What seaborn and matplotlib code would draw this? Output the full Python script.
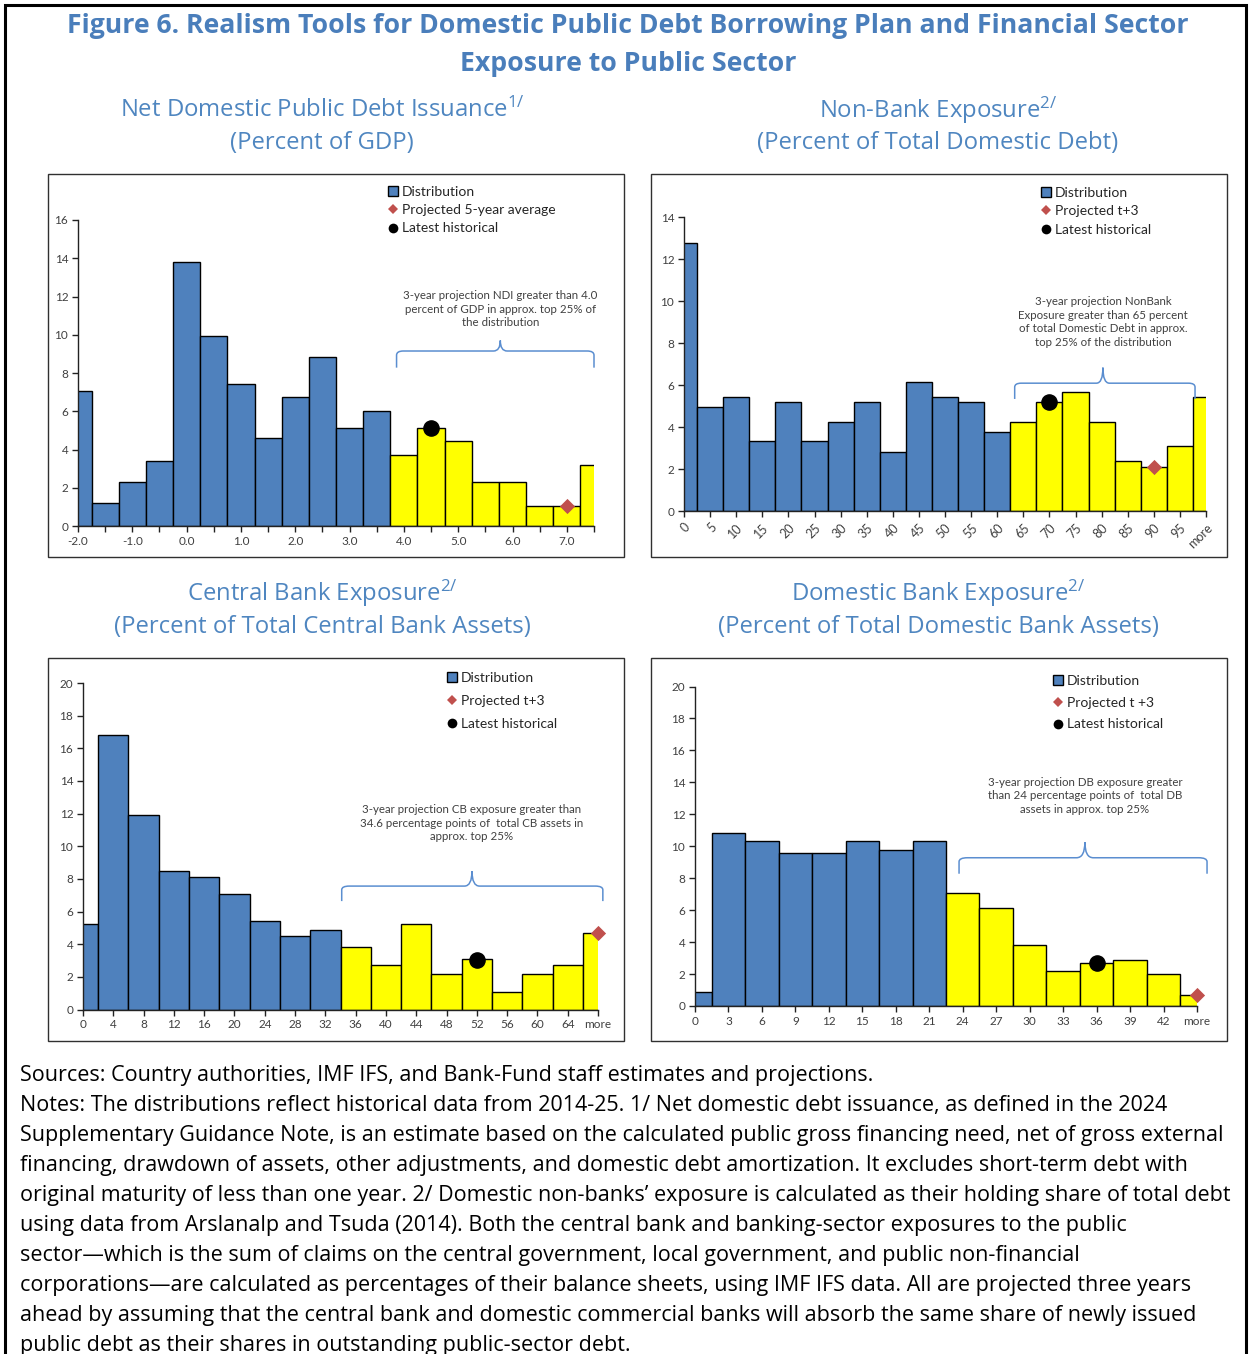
import numpy as np
import pandas as pd
import matplotlib
matplotlib.use("Agg")
import matplotlib.pyplot as plt
import seaborn as sns
from matplotlib.patches import Rectangle, PathPatch
from matplotlib.lines import Line2D
from matplotlib.path import Path

# ---------------- data ----------------
ndi_cats = ["-2.0", "-1.5", "-1.0", "-0.5", "0.0", "0.5", "1.0", "1.5", "2.0", "2.5",
            "3.0", "3.5", "4.0", "4.5", "5.0", "5.5", "6.0", "6.5", "7.0", "7.5"]
ndi_vals = [7.07, 1.22, 2.30, 3.39, 13.83, 9.92, 7.42, 4.61, 6.72, 8.86,
            5.14, 6.01, 3.72, 5.14, 4.44, 2.30, 2.30, 1.04, 1.04, 3.18]
ndi_latest = ("4.5", 5.15)
ndi_proj = ("7.0", 1.05)

nb_cats = ["0", "5", "10", "15", "20", "25", "30", "35", "40", "45", "50", "55", "60",
           "65", "70", "75", "80", "85", "90", "95", "more"]
nb_vals = [12.75, 4.96, 5.45, 3.33, 5.21, 3.33, 4.24, 5.21, 2.85, 6.15, 5.45, 5.21, 3.80,
           4.24, 5.21, 5.67, 4.24, 2.41, 2.11, 3.09, 5.45]
nb_latest = ("70", 5.2)
nb_proj = ("90", 2.1)

cb_cats = ["0", "4", "8", "12", "16", "20", "24", "28", "32", "36", "40", "44", "48",
           "52", "56", "60", "64", "more"]
cb_vals = [5.25, 16.81, 11.91, 8.48, 8.13, 7.05, 5.41, 4.51, 4.88,
           3.80, 2.70, 5.23, 2.19, 3.08, 1.10, 2.19, 2.70, 4.70]
cb_latest = ("52", 3.05)
cb_proj = ("more", 4.7)

db_cats = ["0", "3", "6", "9", "12", "15", "18", "21", "24", "27", "30", "33", "36",
           "39", "42", "more"]
db_vals = [0.90, 10.84, 10.32, 9.57, 9.57, 10.32, 9.78, 10.32,
           7.05, 6.15, 3.82, 2.17, 2.69, 2.88, 1.98, 0.69]
db_latest = ("36", 2.7)
db_proj = ("more", 0.7)

# first category of the top-25% (yellow) segment
ndi_cut, nb_cut, cb_cut, db_cut = "4.0", "65", "36", "24"

# ---------------- style ----------------
W, H = 1251, 1354
sns.set_theme(style="white")
plt.rcParams["font.family"] = ["Open Sans", "DejaVu Sans"]
plt.rcParams["mathtext.default"] = "regular"

BLUE = "#4F81BD"
YELLOW = "#FFFF00"
RED = "#C0504D"
TITLE_C = "#4A7EBB"
SUB_C = "#4F86C0"
TICK_C = "#404040"
IN_FONT = ["Lato", "DejaVu Sans"]

fig = plt.figure(figsize=(W / 100, H / 100), dpi=100)


def fx(x):
    return x / W


def fy(y):
    return 1 - y / H


def add_ax(left, right, top, bottom):
    return fig.add_axes([fx(left), fy(bottom), (right - left) / W, (bottom - top) / H])


def brace(ax, x0, x1, ymid, yend, ytip, xtip):
    rx = 0.25
    ry = (ymid - yend) * 0.25
    verts = [
        (x0, yend), (x0, ymid - ry), (x0, ymid), (x0 + rx, ymid),
        (xtip - rx, ymid), (xtip, ymid), (xtip, ytip),
        (xtip, ymid), (xtip + rx, ymid),
        (x1 - rx, ymid), (x1, ymid), (x1, ymid - ry), (x1, yend),
    ]
    codes = [
        Path.MOVETO, Path.LINETO, Path.CURVE3, Path.CURVE3,
        Path.LINETO, Path.CURVE3, Path.CURVE3,
        Path.CURVE3, Path.CURVE3,
        Path.LINETO, Path.CURVE3, Path.CURVE3, Path.LINETO,
    ]
    ax.add_patch(PathPatch(Path(verts, codes), fill=False, edgecolor="#5B8ED0",
                           lw=1.1, clip_on=False))


def panel(rect, cats, vals, cut, ymax, ystep, latest, proj, label_every=1, rotate=False):
    ax = add_ax(*rect)
    cut_i = cats.index(cut)
    df = pd.DataFrame({"cat": cats, "val": vals,
                       "seg": ["base" if i < cut_i else "top" for i in range(len(cats))]})
    sns.barplot(data=df, x="cat", y="val", hue="seg", order=cats,
                palette={"base": BLUE, "top": YELLOW}, dodge=False, width=1.0,
                edgecolor="black", linewidth=1.0, legend=False, ax=ax, saturation=1)
    n = len(cats)
    ax.set_xlim(0, n - 1)
    ax.set_ylim(0, ymax)
    ax.set_xlabel("")
    ax.set_ylabel("")
    ax.set_yticks(np.arange(0, ymax + 0.01, ystep))
    ax.set_yticklabels([str(int(v)) for v in np.arange(0, ymax + 0.01, ystep)],
                       fontsize=8.5, color=TICK_C, family=IN_FONT)
    ax.set_xticks(range(n))
    labels = [c if i % label_every == 0 else "" for i, c in enumerate(cats)]
    if rotate:
        ax.set_xticklabels(labels, rotation=45, ha="right", rotation_mode="anchor",
                           fontsize=9, color=TICK_C, family=IN_FONT)
    else:
        ax.set_xticklabels(labels, fontsize=8.5, color=TICK_C, family=IN_FONT)
    for s in ["top", "right"]:
        ax.spines[s].set_visible(False)
    for s in ["left", "bottom"]:
        ax.spines[s].set_color("#222222")
        ax.spines[s].set_linewidth(1.0)
    ax.tick_params(axis="both", direction="out", length=4, width=1, color="#222222",
                   pad=3, bottom=True, left=True)
    ax.set_facecolor("none")
    ax.grid(False)
    ax.scatter([cats.index(latest[0])], [latest[1]], s=120, color="black", zorder=5,
               clip_on=False)
    ax.scatter([cats.index(proj[0])], [proj[1]], s=60, marker="D", color=RED, zorder=5,
               clip_on=False, linewidths=0)
    return ax


def legend(ax, x, y, proj_label, spacing):
    handles = [
        Line2D([], [], marker="s", ls="none", markersize=7, markerfacecolor=BLUE,
               markeredgecolor="black", markeredgewidth=1),
        Line2D([], [], marker="D", ls="none", markersize=5, markerfacecolor=RED,
               markeredgewidth=0),
        Line2D([], [], marker="o", ls="none", markersize=7, markerfacecolor="black",
               markeredgewidth=0),
    ]
    ax.legend(handles, ["Distribution", proj_label, "Latest historical"],
              loc="upper left", bbox_to_anchor=(fx(x), fy(y)),
              bbox_transform=fig.transFigure, frameon=False, handlelength=0.7,
              handletextpad=0.3, borderpad=0, borderaxespad=0, labelspacing=spacing,
              prop={"family": IN_FONT, "size": 10})


# panel frames
for (l, t, r, b) in [(48, 174, 624, 557), (651, 174, 1227, 557),
                     (48, 658, 624, 1041), (651, 658, 1227, 1041)]:
    fig.patches.append(Rectangle((fx(l), fy(b)), (r - l) / W, (b - t) / H,
                                 transform=fig.transFigure, fill=False,
                                 edgecolor="#303030", lw=1.0))
# outer border
fig.patches.append(Rectangle((fx(5), fy(1400)), (1246 - 5) / W, (1400 - 5) / H,
                             transform=fig.transFigure, fill=False,
                             edgecolor="black", lw=2.2))

ANN = dict(ha="center", va="top", fontsize=8.3, color="#404040", family=IN_FONT,
           linespacing=1.3)

# ---- panel 1
ax1 = panel((78, 594, 220, 526), ndi_cats, ndi_vals, ndi_cut, 16, 2,
            ndi_latest, ndi_proj, label_every=2)
legend(ax1, 388, 186, "Projected 5-year average", 0.45)
brace(ax1, 11.73, 19.0, 9.15, 8.28, 9.7, 15.55)
ax1.text(15.55, 12.35, "3-year projection NDI greater than 4.0\npercent of GDP in approx. top 25% of\nthe distribution", **ANN)

# ---- panel 2
ax2 = panel((684, 1206, 217, 511.5), nb_cats, nb_vals, nb_cut, 14, 2,
            nb_latest, nb_proj, rotate=True)
legend(ax2, 1041, 187, "Projected t+3", 0.45)
brace(ax2, 12.67, 19.58, 6.1, 5.35, 6.84, 16.05)
ax2.text(16.05, 10.25, "3-year projection NonBank\nExposure greater than 65 percent\nof total Domestic Debt in approx.\ntop 25% of the distribution", **ANN)

# ---- panel 3
ax3 = panel((83, 598, 683, 1009.5), cb_cats, cb_vals, cb_cut, 20, 2,
            cb_latest, cb_proj)
legend(ax3, 447, 672, "Projected t+3", 0.8)
brace(ax3, 8.54, 17.16, 7.56, 6.64, 8.48, 12.84)
ax3.text(12.84, 12.6, "3-year projection CB exposure greater than\n34.6 percentage points of  total CB assets in\napprox. top 25%", **ANN)

# ---- panel 4
ax4 = panel((695, 1197, 686.5, 1006), db_cats, db_vals, db_cut, 20, 2,
            db_latest, db_proj)
legend(ax4, 1053, 675, "Projected t +3", 0.7)
brace(ax4, 7.89, 15.3, 9.28, 8.28, 10.26, 11.65)
ax4.text(11.65, 14.35, "3-year projection DB exposure greater\nthan 24 percentage points of  total DB\nassets in approx. top 25%", **ANN)

# ---------------- titles ----------------
fig.text(fx(628), fy(26), "Figure 6. Realism Tools for Domestic Public Debt Borrowing Plan and Financial Sector",
         ha="center", va="center", fontsize=19.2, fontweight="bold", color=TITLE_C)
fig.text(fx(628), fy(64), "Exposure to Public Sector",
         ha="center", va="center", fontsize=19.2, fontweight="bold", color=TITLE_C)

subs = [
    (322, 110, "Net Domestic Public Debt Issuance$^{1/}$", 143, "(Percent of GDP)"),
    (938, 110, "Non-Bank Exposure$^{2/}$", 143, "(Percent of Total Domestic Debt)"),
    (322, 593, "Central Bank Exposure$^{2/}$", 627, "(Percent of Total Central Bank Assets)"),
    (938, 593, "Domestic Bank Exposure$^{2/}$", 627, "(Percent of Total Domestic Bank Assets)"),
]
for x, y1, t1, y2, t2 in subs:
    fig.text(fx(x), fy(y1), t1, ha="center", va="center", fontsize=17.2, color=SUB_C)
    fig.text(fx(x), fy(y2), t2, ha="center", va="center", fontsize=17.2, color=SUB_C)

notes = [
    "Sources: Country authorities, IMF IFS, and Bank-Fund staff estimates and projections.",
    "Notes: The distributions reflect historical data from 2014-25. 1/ Net domestic debt issuance, as defined in the 2024",
    "Supplementary Guidance Note, is an estimate based on the calculated public gross financing need, net of gross external",
    "financing, drawdown of assets, other adjustments, and domestic debt amortization. It excludes short-term debt with",
    "original maturity of less than one year. 2/ Domestic non-banks\u2019 exposure is calculated as their holding share of total debt",
    "using data from Arslanalp and Tsuda (2014). Both the central bank and banking-sector exposures to the public",
    "sector\u2014which is the sum of claims on the central government, local government, and public non-financial",
    "corporations\u2014are calculated as percentages of their balance sheets, using IMF IFS data. All are projected three years",
    "ahead by assuming that the central bank and domestic commercial banks will absorb the same share of newly issued",
    "public debt as their shares in outstanding public-sector debt.",
]
for i, line in enumerate(notes):
    fig.text(fx(20), fy(1075 + 30 * i), line, ha="left", va="center", fontsize=15.5,
             color="black")

fig.savefig("out.png", dpi=100)
